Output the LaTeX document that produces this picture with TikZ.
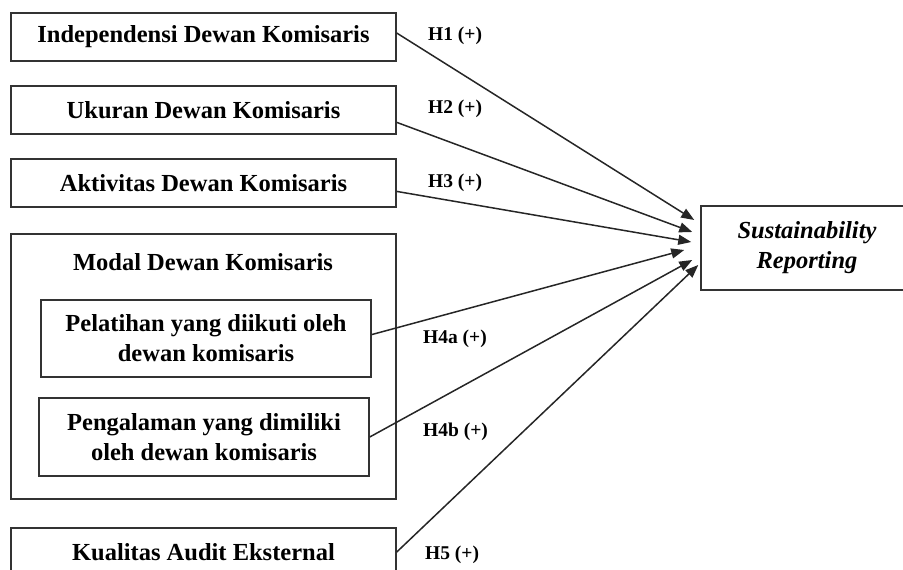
\documentclass[tikz,border=0pt]{standalone}
\usepackage{fontspec}
\setmainfont{Liberation Serif}
\usetikzlibrary{arrows.meta,calc}
\definecolor{boxline}{HTML}{333333}
\begin{document}
\begin{tikzpicture}[x=1pt,y=-1pt,
  varbox/.style={draw=boxline,line width=1.5pt,rectangle,inner sep=0pt,align=center,
    font=\fontsize{24.5}{30}\selectfont\bfseries},
  hyplabel/.style={anchor=base west,inner sep=0pt,font=\fontsize{19.5}{22}\selectfont\bfseries},
  path/.style={draw=black!85,line width=1.5pt,-{Triangle[length=13pt,width=10pt]}}]
\useasboundingbox (0,0) rectangle (903,570);
% boxes
\node[varbox,minimum width=385pt,minimum height=48pt] (ind) at (203.5,37) {Independensi Dewan Komisaris};
\node[varbox,minimum width=385pt,minimum height=48pt] (uku) at (203.5,110) {Ukuran Dewan Komisaris};
\node[varbox,minimum width=385pt,minimum height=48pt] (akt) at (203.5,183) {Aktivitas Dewan Komisaris};
\node[varbox,minimum width=385pt,minimum height=265pt] (mod) at (203.5,366.5) {};
\node[font=\fontsize{24.5}{30}\selectfont\bfseries,inner sep=0pt] (modt) at (203,262) {Modal Dewan Komisaris};
\node[varbox,minimum width=330pt,minimum height=77pt] (pel) at (206,338.5) {Pelatihan yang diikuti oleh\\dewan komisaris};
\node[varbox,minimum width=330pt,minimum height=78pt] (pen) at (204,437) {Pengalaman yang dimiliki\\oleh dewan komisaris};
\node[varbox,minimum width=385pt,minimum height=48pt] (kua) at (203.5,552) {Kualitas Audit Eksternal};
\node[varbox,minimum width=212pt,minimum height=84pt] (sr) at (807,248) {\itshape Sustainability\\\itshape Reporting};
% arrow tips
\coordinate (t1) at ($(sr.west)+(-6,-28)$);
\coordinate (t2) at ($(sr.west)+(-8,-16)$);
\coordinate (t3) at ($(sr.west)+(-9,-6)$);
\coordinate (t4) at ($(sr.west)+(-16,2)$);
\coordinate (t5) at ($(sr.west)+(-8,12)$);
\coordinate (t6) at ($(sr.west)+(-2,17)$);
% connectors
\draw[path] ($(ind.north east)!0.42!(ind.south east)$) -- (t1);
\draw[path] ($(uku.north east)!0.75!(uku.south east)$) -- (t2);
\draw[path] ($(akt.north east)!0.67!(akt.south east)$) -- (t3);
\draw[path] ($(pel.north east)!0.45!(pel.south east)$) -- (t4);
\draw[path] ($(pen.north east)!0.5!(pen.south east)$) -- (t5);
\draw[path] (kua.east) -- (t6);
% labels
\node[hyplabel] (h1) at (428,40) {H1 (+)};
\node[hyplabel] (h2) at (428,113) {H2 (+)};
\node[hyplabel] (h3) at (428,187) {H3 (+)};
\node[hyplabel] (h4a) at (423,343) {H4a (+)};
\node[hyplabel] (h4b) at (423,436) {H4b (+)};
\node[hyplabel] (h5) at (425,559) {H5 (+)};
\end{tikzpicture}
\end{document}
